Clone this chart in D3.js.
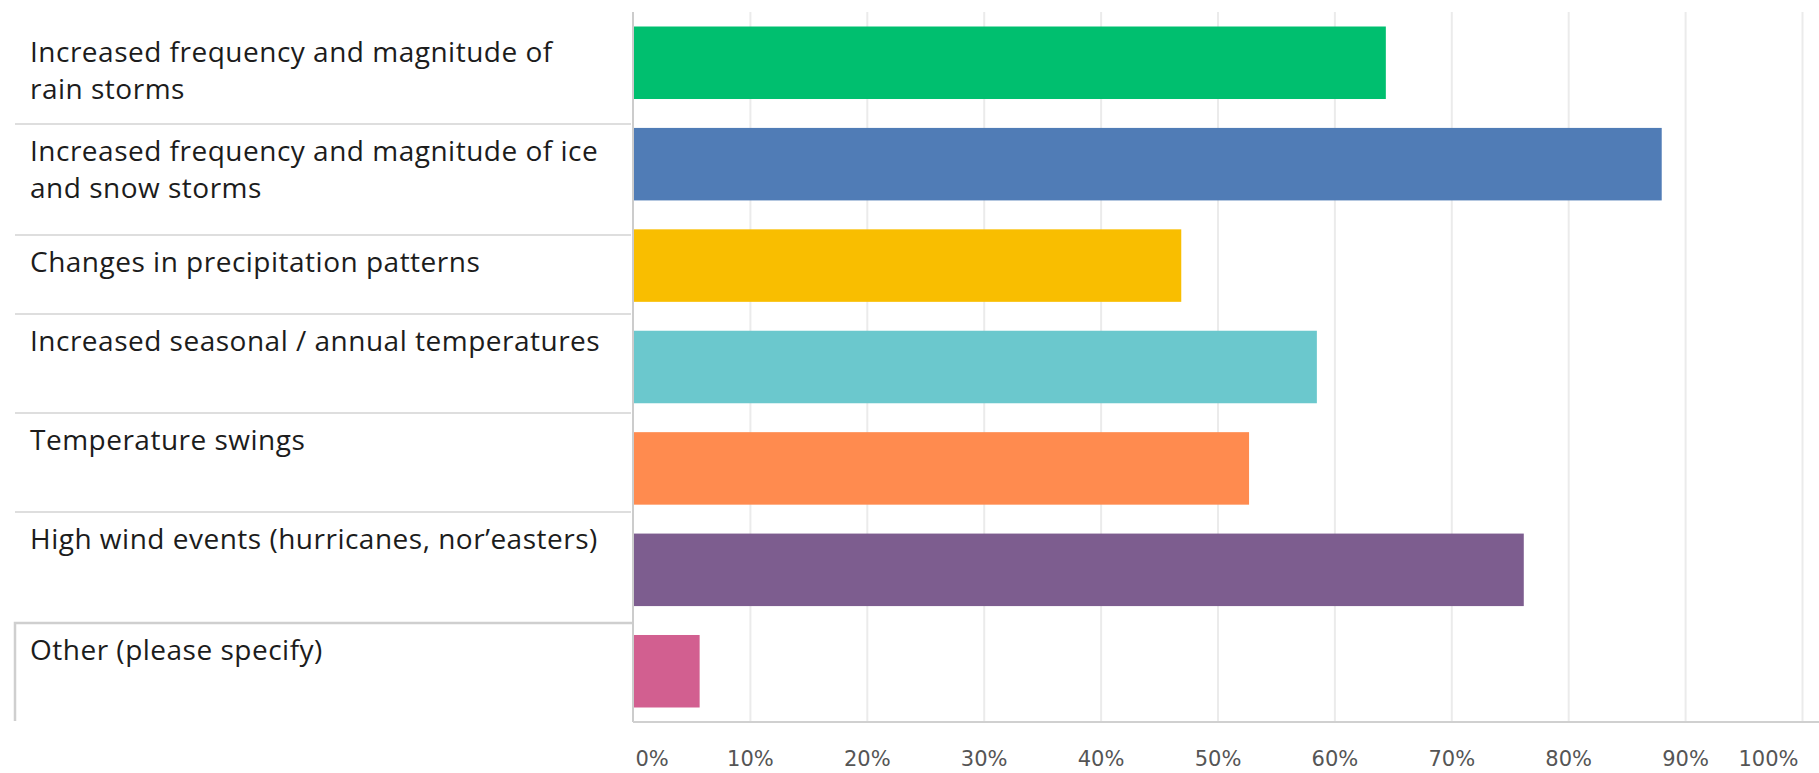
<!DOCTYPE html>
<html>
<head>
<meta charset="utf-8">
<script src="https://cdn.jsdelivr.net/npm/d3@7"></script>
<style>
  body { margin: 0; background: #fff; }
  svg { display: block; }
  .label { font-family: "Open Sans", sans-serif; font-size: 28px; letter-spacing: 0.5px; fill: #1c1c1c; }
  .x-axis text { font-family: "DejaVu Sans", sans-serif; font-size: 21px; fill: #555; }
</style>
</head>
<body>
<div id="chart"></div>
<script>
// data
const categories = [
  "Increased frequency and magnitude of rain storms",
  "Increased frequency and magnitude of ice and snow storms",
  "Changes in precipitation patterns",
  "Increased seasonal / annual temperatures",
  "Temperature swings",
  "High wind events (hurricanes, nor\u2019easters)",
  "Other (please specify)"
];
const labelLines = [
  ["Increased frequency and magnitude of", "rain storms"],
  ["Increased frequency and magnitude of ice", "and snow storms"],
  ["Changes in precipitation patterns"],
  ["Increased seasonal / annual temperatures"],
  ["Temperature swings"],
  ["High wind events (hurricanes, nor\u2019easters)"],
  ["Other (please specify)"]
];
const values = [64.4, 88.0, 46.9, 58.5, 52.7, 76.2, 5.7];
const colours = ["#00bf6f", "#507cb6", "#f9be00", "#6bc8cd", "#ff8b4f", "#7d5d8f", "#d25f90"];
const tickValues = [0, 10, 20, 30, 40, 50, 60, 70, 80, 90, 100];
const tickLabels = ["0%", "10%", "20%", "30%", "40%", "50%", "60%", "70%", "80%", "90%", "100%"];

window.addEventListener("load", () => {
  const width = 1819;
  const height = 773;
  const plot = {left: 633, right: 1802, top: 12, bottom: 722};

  const svg = d3.select("#chart").append("svg")
    .attr("width", width)
    .attr("height", height);

  // scales
  const x = d3.scaleLinear().domain([0, 100]).range([plot.left, plot.right]);
  const y = d3.scaleBand()
    .domain(categories)
    .range([plot.top, plot.bottom])
    .paddingInner(0.285)
    .paddingOuter(0.143);

  // gridlines
  svg.append("g")
    .attr("class", "grid")
    .attr("transform", `translate(0,${plot.bottom})`)
    .call(d3.axisBottom(x).tickValues(tickValues.slice(1)).tickSize(-(plot.bottom - plot.top)).tickFormat(""))
    .call(g => g.select(".domain").remove())
    .call(g => g.selectAll("line").attr("stroke", "#ebebeb").attr("stroke-width", 2));

  // left label area: row separators, boxed "Other" row
  const rowTops = [25, 124, 235, 314, 413, 512, 623, 721];
  const labels = svg.append("g").attr("class", "labels");

  labels.selectAll(".sep")
    .data(rowTops.slice(1, 6))
    .enter().append("line")
      .attr("class", "sep")
      .attr("x1", 15).attr("x2", plot.left - 2)
      .attr("y1", d => d).attr("y2", d => d)
      .attr("stroke", "#dedede")
      .attr("stroke-width", 2);

  labels.append("path")
    .attr("d", `M${plot.left},${rowTops[6]}H15V${rowTops[7]}`)
    .attr("fill", "none")
    .attr("stroke", "#cfcfcf")
    .attr("stroke-width", 2.5);

  labelLines.forEach((lines, i) => {
    const t = labels.append("text")
      .attr("class", "label")
      .attr("x", 30)
      .attr("y", rowTops[i] + 37);
    lines.forEach((line, j) => {
      t.append("tspan")
        .attr("x", 30)
        .attr("dy", j === 0 ? 0 : 37)
        .text(line);
    });
  });

  // bars
  svg.selectAll(".bar")
    .data(values)
    .enter().append("rect")
      .attr("class", "bar")
      .attr("x", x(0) + 1)
      .attr("y", (d, i) => y(categories[i]))
      .attr("width", d => x(d) - x(0) - 1)
      .attr("height", y.bandwidth())
      .attr("fill", (d, i) => colours[i]);

  // axis lines
  svg.append("line")
    .attr("x1", plot.left).attr("x2", plot.left)
    .attr("y1", plot.top).attr("y2", plot.bottom)
    .attr("stroke", "#cccccc").attr("stroke-width", 2);
  svg.append("line")
    .attr("x1", plot.left).attr("x2", width)
    .attr("y1", plot.bottom).attr("y2", plot.bottom)
    .attr("stroke", "#d0d0d0").attr("stroke-width", 2);

  // x axis labels
  const last = tickValues.length - 1;
  svg.append("g")
    .attr("class", "x-axis")
    .attr("transform", `translate(0,${plot.bottom})`)
    .call(d3.axisBottom(x).tickValues(tickValues).tickSize(0).tickPadding(29)
      .tickFormat((d, i) => tickLabels[i]))
    .call(g => g.select(".domain").remove())
    .call(g => g.selectAll("text")
      .attr("text-anchor", (d, i) => i === 0 ? "start" : (i === last ? "end" : "middle"))
      .attr("dx", (d, i) => i === 0 ? 2 : (i === last ? -4 : 0)));
});
</script>
</body>
</html>
